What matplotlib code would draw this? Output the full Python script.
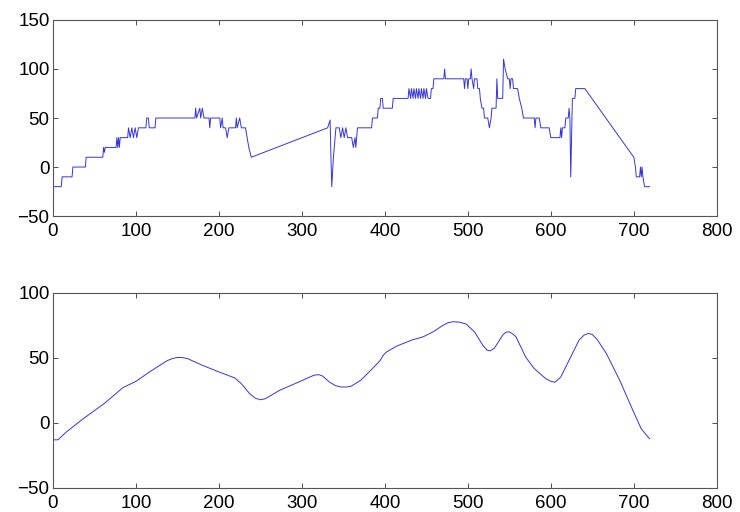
import matplotlib
matplotlib.use("Agg")
import matplotlib.pyplot as plt

plt.rcParams['font.family'] = ['Liberation Sans', 'DejaVu Sans']

# Top panel: raw step signal (vertices)
raw_x = [1, 10, 11, 23, 24, 39, 40, 60, 61, 62, 63, 76, 77, 78, 79, 80, 81, 90, 91, 93, 95, 97, 99, 101, 103,
         112, 113, 115, 116, 123, 124, 171, 172, 173, 177, 178, 180, 182, 188, 189, 190, 201, 202, 204, 205,
         208, 210, 212, 220, 221, 222, 225, 227, 232, 234, 236, 239, 331, 334, 335, 336, 338, 341, 345, 347,
         349, 351, 353, 355, 360, 362, 364, 365, 367, 384, 385, 391, 392, 394, 395, 397, 398, 409, 410, 428,
         429, 431, 432, 434, 435, 437, 438, 440, 441, 443, 444, 446, 447, 449, 450, 452, 455, 456, 458, 459,
         471, 472, 473, 495, 496, 497, 499, 500, 501, 503, 504, 505, 507, 508, 511, 512, 514, 515, 517, 519,
         520, 524, 526, 528, 529, 534, 535, 536, 542, 543, 545, 548, 550, 551, 552, 554, 555, 560, 562, 565,
         567, 580, 581, 582, 586, 588, 598, 600, 611, 612, 613, 614, 617, 618, 621, 622, 623, 624, 626, 629,
         630, 641, 700, 702, 703, 707, 708, 709, 710, 711, 713, 719]
raw_y = [-20, -20, -10, -10, 0, 0, 10, 10, 20, 15, 20, 20, 30, 20, 30, 20, 30, 30, 40, 30, 40, 30, 40, 30, 40,
         40, 50, 50, 40, 40, 50, 50, 60, 50, 60, 50, 60, 50, 50, 40, 50, 50, 40, 50, 40,
         40, 30, 40, 40, 50, 40, 50, 40, 40, 30, 20, 10, 40, 48, 10, -20, 10, 40, 40, 30,
         40, 30, 40, 30, 30, 20, 30, 20, 40, 40, 50, 50, 60, 60, 70, 70, 60, 60, 70, 70,
         80, 70, 80, 70, 80, 70, 80, 70, 80, 70, 80, 70, 80, 70, 80, 70, 70, 80, 80, 90,
         90, 100, 90, 90, 80, 90, 90, 80, 90, 90, 100, 90, 80, 90, 90, 80, 80, 70, 60, 60,
         50, 50, 40, 50, 60, 60, 90, 70, 70, 110, 100, 90, 90, 80, 90, 90, 80, 80, 70, 60,
         50, 50, 40, 50, 50, 40, 40, 30, 30, 40, 30, 40, 40, 50, 50, 60, 50, -10, 70, 70,
         80, 80, 10, 0, -10, -10, 0, -10, 0, -10, -20, -20]

# Bottom panel: smoothed signal
smooth_x = [0, 6, 16, 36, 62, 84, 100, 116, 128, 138, 144, 150, 156, 162, 180, 200, 219, 227, 237, 244, 250,
            256, 273, 301, 312, 317, 321, 325, 333, 340, 347, 353, 359, 371, 385, 394, 398, 402, 414, 432,
            446, 458, 470, 476, 482, 490, 498, 508, 518, 523, 527, 532, 538, 542, 546, 550, 554, 558, 570,
            580, 594, 600, 605, 612, 622, 634, 640, 645, 650, 656, 667, 683, 699, 709, 719]
smooth_y = [-13, -13, -7, 3, 15, 27, 32, 39, 44, 48, 49.5, 50.3, 50.2, 49.5, 44.3, 39.2, 34.6, 30.2, 22.5,
            19, 17.8, 18.6, 25, 32.8, 36, 37, 37, 36, 31.5, 28.8, 27.6, 27.6, 28.1, 32.8, 41.8, 47.7, 52,
            54.6, 59, 63.6, 66.2, 70, 75, 77, 77.8, 77.5, 76, 70, 59.8, 56, 55.4, 57.5, 63.5, 67.5, 69.8,
            70, 68.5, 66.2, 50.3, 41.8, 34, 32, 31.3, 35.3, 48.2, 63.6, 67.5, 68.8, 68, 64, 53.3, 32.8,
            9.5, -4.6, -12.2]

fig = plt.figure(figsize=(7.4, 5.12), dpi=100)
ax1 = fig.add_axes([0.0716, 0.578, 0.897, 0.383])
ax2 = fig.add_axes([0.0716, 0.047, 0.897, 0.381])

line_color = '#3434dc'
ax1.plot(raw_x, raw_y, color=line_color, lw=0.7)
ax2.plot(smooth_x, smooth_y, color=line_color, lw=0.7)

ax1.set_xlim(0, 800)
ax1.set_ylim(-50, 150)
ax1.set_xticks([0, 100, 200, 300, 400, 500, 600, 700, 800])
ax1.set_yticks([-50, 0, 50, 100, 150])
ax2.set_xlim(0, 800)
ax2.set_ylim(-50, 100)
ax2.set_xticks([0, 100, 200, 300, 400, 500, 600, 700, 800])
ax2.set_yticks([-50, 0, 50, 100])

for ax in (ax1, ax2):
    ax.tick_params(direction='in', top=True, right=True, length=3.5, width=0.6,
                   labelsize=13.5, colors='#303030', labelcolor='black')
    ax.tick_params(axis='y', pad=2.5)
    ax.tick_params(axis='x', pad=5)
    for s in ax.spines.values():
        s.set_color('#555555')
        s.set_linewidth(0.8)

fig.savefig('out.png', dpi=100, facecolor='white')
